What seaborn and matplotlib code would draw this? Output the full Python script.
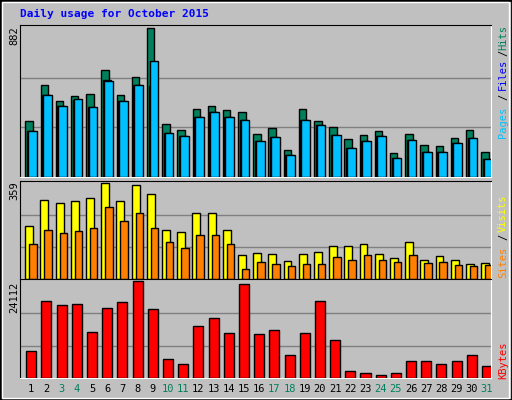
import numpy as np
import pandas as pd
import seaborn as sns
import matplotlib
matplotlib.use("Agg")
import matplotlib.pyplot as plt
from matplotlib.patches import Rectangle

days = np.arange(1, 32)
hits = [331,547,451,481,493,636,487,594,882,313,277,403,421,397,385,253,289,158,403,331,295,223,247,271,140,253,188,182,229,277,146]
files = [271,483,421,457,415,575,451,547,541,259,241,355,385,355,337,211,235,128,337,307,247,170,211,241,110,217,146,146,200,229,104]
pages = [271,487,421,463,415,569,451,547,684,259,241,355,385,355,337,211,235,128,337,307,247,170,211,241,110,217,146,146,200,229,104]
sites = [199,296,285,293,304,359,293,351,316,183,176,246,246,183,90,98,94,66,94,101,125,125,129,94,78,137,70,86,70,55,59]
visits = [129,183,172,179,191,269,218,246,191,137,117,164,164,129,39,62,55,47,55,55,82,70,90,70,62,90,59,62,51,47,51]
kbytes = [6623,19073,18013,18278,11391,17483,18808,24112,17219,4768,3444,12980,14834,11126,23311,10861,11920,5828,11126,19073,9536,1854,1325,795,1325,4238,4238,3444,4238,5828,2914]
weekend = [3,4,10,11,17,18,24,25,31]
title = "Daily usage for October 2015"

BG = "#C0C0C0"
GREEN = "#00805C"
mono = "DejaVu Sans Mono"

fig = plt.figure(figsize=(5.12, 4.0), dpi=100, facecolor=BG)
fig.patches.append(Rectangle((0, 0), 1, 1, transform=fig.transFigure, fill=False, ec="black", lw=2))
fig.patches.append(Rectangle((0.004, 0.006), 0.99, 0.99, transform=fig.transFigure, fill=False, ec="white", lw=1))

L, W = 0.039, 0.92
ax1 = fig.add_axes([L, 0.5575, W, 0.38])
ax2 = fig.add_axes([L, 0.3025, W, 0.245])
ax3 = fig.add_axes([L, 0.055, W, 0.2475])

def bars(ax, vals, off, width, color):
    df = pd.DataFrame({"x": days + off, "y": vals})
    sns.barplot(data=df, x="x", y="y", native_scale=True, width=width, color=color,
                edgecolor="black", linewidth=1, saturation=1, ax=ax, zorder=3)

bars(ax1, hits, -0.05, 0.49, GREEN)
bars(ax1, files, 0.06, 0.50, "#0000FF")
bars(ax1, pages, 0.16, 0.57, "#00C0FF")
bars(ax2, sites, -0.04, 0.52, "#FFFF00")
bars(ax2, visits, 0.205, 0.49, "#FF8000")
bars(ax3, kbytes, 0.09, 0.66, "#FF0000")

for ax, mx in [(ax1, 882), (ax2, 359), (ax3, 24112)]:
    ax.set_facecolor(BG)
    ax.set_xlim(0.35, 31.35)
    ax.set_ylim(0, mx * 1.02)
    ax.set_yticks([mx / 3, 2 * mx / 3])
    ax.grid(axis="y", color="#808080", lw=1, zorder=0)
    ax.grid(axis="x", visible=False)
    ax.tick_params(left=False, bottom=False, labelleft=False, labelbottom=False)
    ax.set_xlabel(""); ax.set_ylabel("")
    for s in ["left", "top"]:
        ax.spines[s].set_color("black")
    for s in ["right", "bottom"]:
        ax.spines[s].set_color("white")

fig.text(20/512, 1 - 14/400, title, color="#0000FF", fontsize=8, fontweight="bold",
         family=mono, va="center", ha="left")

def ft(x, y, s, c, rot=90, ha="center", size=7.5):
    fig.text(x/512, 1 - y/400, s, color=c, fontsize=size, family=mono, rotation=rot,
             ha=ha, va="center")

ft(14, 36, "882", "black")
ft(14, 191, "359", "black")
ft(14, 297, "24112", "black")

rx = 503
ft(rx, 37, "Hits", GREEN)
ft(rx, 53, "/", "black")
ft(rx, 74, "Files", "#0000FF")
ft(rx, 97, "/", "black")
ft(rx, 122, "Pages", "#00C0FF")
ft(rx, 213, "Visits", "#FFFF00")
ft(rx, 237, "/", "black")
ft(rx, 262, "Sites", "#FF8000")
ft(rx, 360, "KBytes", "#FF0000")

for d in days:
    xp = 20 + (d + 0.09 - 0.35) * (471 / 31)
    ft(xp, 389, str(d), GREEN if d in weekend else "black", rot=0, size=7.5)

fig.savefig("out.png", dpi=100, facecolor=BG)
